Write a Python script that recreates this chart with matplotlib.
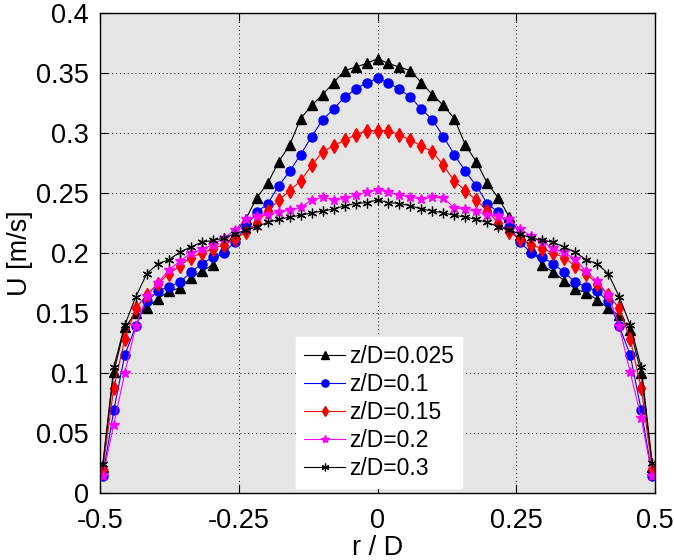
import numpy as np
import matplotlib
matplotlib.use('Agg')
import matplotlib.pyplot as plt

plt.rcParams['font.family'] = ['Liberation Sans', 'DejaVu Sans']

# radial positions r/D (measurement grid, 51 points across the pipe)
r_over_D = np.round(np.arange(-25, 26) * 0.0198, 4)

# mean axial velocity U [m/s] at each height z/D
u_z0025 = [0.022, 0.101, 0.138, 0.150, 0.154, 0.162, 0.168, 0.171, 0.179, 0.185,
           0.190, 0.204, 0.216, 0.228, 0.246, 0.258, 0.276, 0.290, 0.312, 0.323,
           0.332, 0.342, 0.352, 0.355, 0.358, 0.362, 0.358, 0.355, 0.352, 0.342,
           0.332, 0.323, 0.312, 0.290, 0.276, 0.258, 0.246, 0.230, 0.215, 0.204,
           0.190, 0.184, 0.177, 0.170, 0.167, 0.161, 0.154, 0.148, 0.136, 0.100,
           0.022]
u_z01 = [0.0144, 0.069, 0.115, 0.139, 0.160, 0.168, 0.172, 0.1755, 0.184, 0.191,
         0.1965, 0.200, 0.209, 0.222, 0.234, 0.241, 0.256, 0.268, 0.282, 0.297,
         0.311, 0.320, 0.330, 0.3365, 0.342, 0.3455, 0.342, 0.3365, 0.330, 0.320,
         0.311, 0.297, 0.282, 0.268, 0.256, 0.241, 0.234, 0.222, 0.209, 0.200,
         0.1965, 0.191, 0.184, 0.1755, 0.172, 0.168, 0.160, 0.139, 0.115, 0.069,
         0.0144]
u_z015 = [0.020, 0.0875, 0.128, 0.154, 0.165, 0.1745, 0.1827, 0.189, 0.1963, 0.200,
          0.2035, 0.207, 0.2115, 0.2175, 0.225, 0.235, 0.244, 0.252, 0.260, 0.273,
          0.2845, 0.2893, 0.294, 0.2985, 0.302, 0.302, 0.302, 0.2985, 0.294, 0.2893,
          0.2845, 0.273, 0.260, 0.252, 0.244, 0.235, 0.225, 0.2175, 0.2115, 0.207,
          0.2035, 0.200, 0.1963, 0.189, 0.1827, 0.1745, 0.165, 0.154, 0.128, 0.0875,
          0.020]
u_z02 = [0.014, 0.057, 0.100, 0.139, 0.164, 0.175, 0.186, 0.193, 0.200, 0.203,
         0.207, 0.2125, 0.219, 0.228, 0.2305, 0.232, 0.234, 0.236, 0.238, 0.2444,
         0.2464, 0.2444, 0.2455, 0.248, 0.251, 0.2525, 0.251, 0.2485, 0.2465, 0.245,
         0.2467, 0.2458, 0.2375, 0.2367, 0.2347, 0.232, 0.2305, 0.228, 0.220, 0.214,
         0.2095, 0.204, 0.2005, 0.195, 0.1847, 0.1764, 0.1653, 0.139, 0.1005, 0.0625,
         0.0139]
u_z03 = [0.024, 0.105, 0.140, 0.1635, 0.1828, 0.191, 0.1944, 0.2006, 0.205, 0.209,
         0.2105, 0.2125, 0.216, 0.219, 0.222, 0.2255, 0.228, 0.230, 0.2315, 0.2335,
         0.235, 0.2367, 0.2394, 0.2413, 0.242, 0.2444, 0.242, 0.2413, 0.2394, 0.2367,
         0.235, 0.2335, 0.2315, 0.230, 0.228, 0.2255, 0.222, 0.219, 0.216, 0.2125,
         0.2105, 0.209, 0.205, 0.2006, 0.1944, 0.191, 0.1828, 0.1635, 0.140, 0.105,
         0.025]

labels = ['z/D=0.025', 'z/D=0.1', 'z/D=0.15', 'z/D=0.2', 'z/D=0.3']

fig = plt.figure(figsize=(6.74, 5.60), dpi=100)
ax = fig.add_axes([0.1484, 0.1196, 0.8234, 0.857])
ax.set_facecolor('#e5e5e5')

lw = 0.8
ax.plot(r_over_D, u_z0025, color='k', marker='^', markersize=7, lw=lw, label=labels[0])
ax.plot(r_over_D, u_z01, color='#0000ff', marker='o', markersize=6.5, lw=lw, label=labels[1])
ax.plot(r_over_D, u_z015, color='#ff0000', marker='d', markersize=7, lw=lw, label=labels[2])
ax.plot(r_over_D, u_z02, color='#ff00ff', marker='*', markersize=7.5, lw=lw, label=labels[3])
ax.plot(r_over_D, u_z03, color='k', marker=(6, 2, 0), markersize=7, lw=lw,
        markeredgewidth=0.9, label=labels[4])

ax.set_xlim(-0.5, 0.5)
ax.set_ylim(0, 0.4)
ax.set_xticks([-0.5, -0.25, 0, 0.25, 0.5])
ax.set_xticklabels(['-0.5', '-0.25', '0', '0.25', '0.5'])
ax.set_yticks(np.arange(0, 0.41, 0.05))
ax.set_yticklabels(['0', '0.05', '0.1', '0.15', '0.2', '0.25', '0.3', '0.35', '0.4'])
ax.tick_params(direction='in', length=6, width=0.8, top=True, right=True,
               labelsize=19.5)
ax.tick_params(axis='y', pad=8)
ax.tick_params(axis='x', pad=10.5)
ax.grid(True, color='k', linestyle=(0, (1, 3)), linewidth=0.7)
for s in ax.spines.values():
    s.set_linewidth(1.0)

ax.set_xlabel('r / D', fontsize=19.5, labelpad=1)
ax.set_ylabel('U [m/s]', fontsize=19.5, labelpad=2)

leg = ax.legend(loc='lower left', bbox_to_anchor=(0.353, 0.01), fontsize=16.5,
                frameon=True, fancybox=False, framealpha=1, edgecolor='white',
                handlelength=1.8, handletextpad=0.15, labelspacing=0.22,
                markerscale=0.8, borderpad=0.35, borderaxespad=0)
leg.get_frame().set_facecolor('white')

fig.savefig('out.png', dpi=100)
